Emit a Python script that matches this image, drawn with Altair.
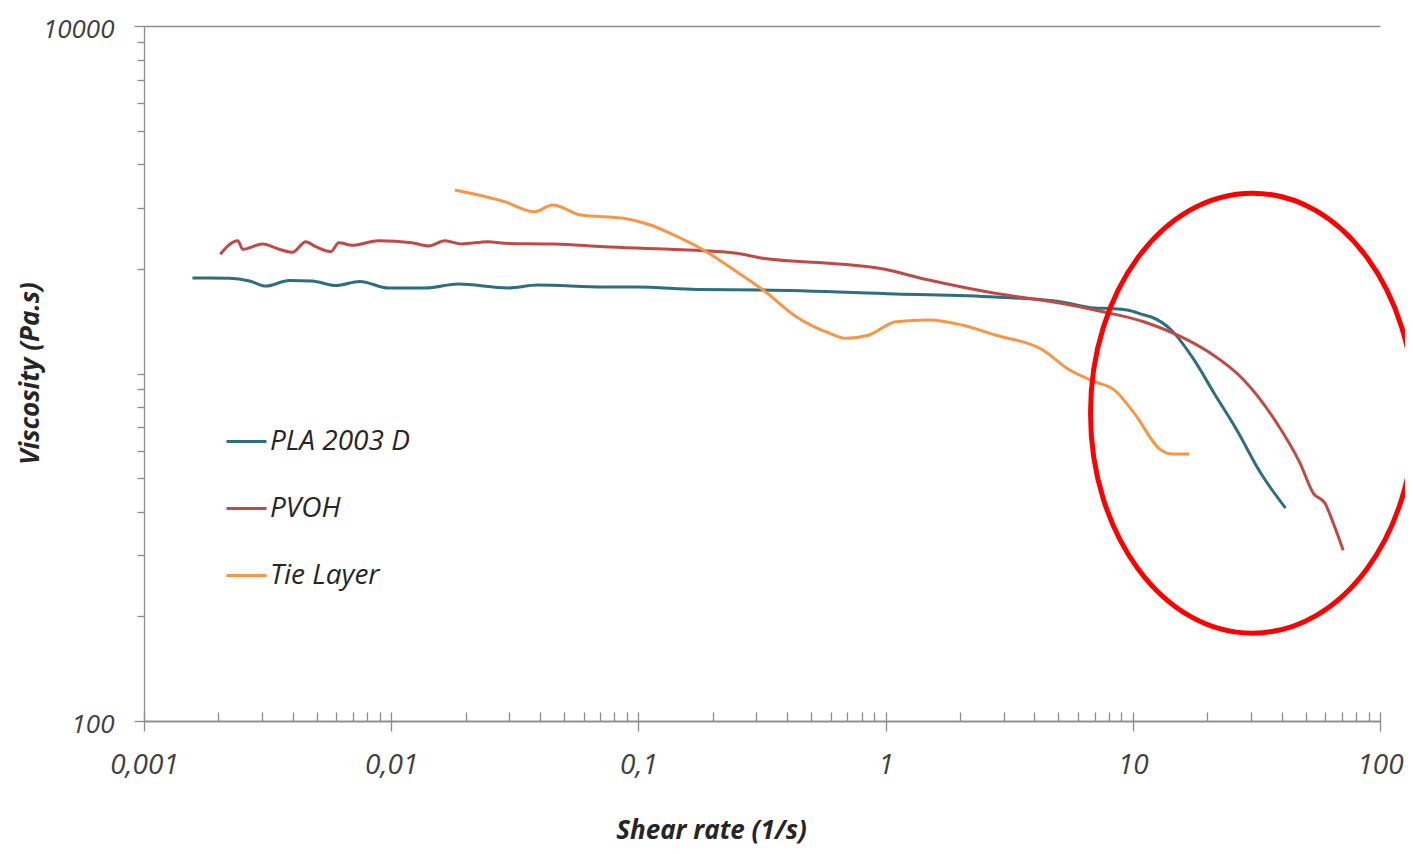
import altair as alt
import pandas as pd

# ---------------- data ----------------
series_names = ["PLA 2003 D", "PVOH", "Tie Layer"]
series_colors = ["#2E6E7E", "#BE4B48", "#F79646"]

pla_x = [0.00157, 0.00222, 0.00267, 0.00312, 0.00387, 0.00478, 0.00597, 0.00746,
         0.00976, 0.01375, 0.01867, 0.02967, 0.03917, 0.0729, 0.0989, 0.1724,
         0.3206, 1.099, 2.775, 5.16, 7.01, 8.20, 9.51, 11.14, 11.88, 14.30,
         17.70, 21.30, 26.34, 32.91, 41.48]
pla_y = [1883, 1879, 1846, 1785, 1852, 1846, 1791, 1840, 1762, 1762, 1809, 1762,
         1797, 1774, 1774, 1745, 1739, 1694, 1660, 1606, 1543, 1538, 1523, 1473,
         1454, 1334, 1094, 879, 688, 517, 410]

pvoh_x = [0.002035, 0.002395, 0.002509, 0.003019, 0.003525, 0.003987, 0.004512,
          0.004951, 0.005689, 0.006144, 0.006949, 0.0089, 0.01211, 0.01414,
          0.01651, 0.01925, 0.02465, 0.02877, 0.04572, 0.07263, 0.1346, 0.2497,
          0.3198, 0.5926, 0.9417, 1.496, 2.775, 5.147, 7.01, 11.14, 16.63, 20.65,
          28.11, 38.28, 47.53, 53.76, 59.93, 64.71, 71.0]
pvoh_y = [2203, 2411, 2277, 2359, 2277, 2233, 2395, 2317, 2242, 2379, 2338, 2411,
          2379, 2328, 2411, 2359, 2395, 2369, 2359, 2317, 2277, 2218, 2146, 2076,
          2008, 1858, 1701, 1592, 1523, 1407, 1249, 1143, 958, 719, 551, 452, 423,
          371, 310]

tie_x = [0.01811, 0.02877, 0.03799, 0.045, 0.05851, 0.08743, 0.1119, 0.1346,
         0.1834, 0.2497, 0.3198, 0.4353, 0.5926, 0.6918, 0.858, 1.099, 1.496,
         2.039, 2.775, 4.277, 5.559, 7.01, 8.433, 10.15, 13.0, 14.26, 16.89]
tie_y = [3374, 3122, 2922, 3054, 2858, 2797, 2675, 2532, 2266, 1963, 1739, 1457,
         1306, 1263, 1291, 1409, 1426, 1379, 1291, 1174, 1023, 947, 896, 768, 602,
         587, 587]

# axis ticks
x_major = [0.001, 0.01, 0.1, 1, 10, 100]
x_minor = [m * d for d in [0.001, 0.01, 0.1, 1, 10] for m in range(2, 10)]
x_all_ticks = x_major + x_minor
y_major = [100, 10000]
y_minor = [m * d for d in [100, 1000] for m in range(2, 10)] + [1000]

# highlight ellipse (annotation) centre, in data units
highlight_x = [30.5]
highlight_y = [769]

# ---------------- build table ----------------
rows = []
for name, xs, ys in zip(series_names, [pla_x, pvoh_x, tie_x], [pla_y, pvoh_y, tie_y]):
    for i, (a, b) in enumerate(zip(xs, ys)):
        rows.append({"series": name, "order": i, "x": a, "y": b})
df = pd.DataFrame(rows)
hl = pd.DataFrame({"x": highlight_x, "y": highlight_y})

FONT = "Open Sans"
AXIS_GRAY = "#8C8C8C"
LABEL_COLOR = "#404040"
TITLE_COLOR = "#262626"

xscale = alt.Scale(type="log", domain=[0.001, 100])
yscale = alt.Scale(type="log", domain=[100, 10000])

lines = alt.Chart(df).mark_line(strokeWidth=3, interpolate="monotone").encode(
    x=alt.X("x:Q", scale=xscale, axis=alt.Axis(
        orient="bottom", values=x_major,
        labelExpr="replace(format(datum.value, '~g'), '.', ',')",
        tickSize=10, tickColor=AXIS_GRAY, tickWidth=1.3,
        domainColor=AXIS_GRAY, domainWidth=1.3, grid=False,
        labelFont=FONT, labelFontStyle="italic", labelFontSize=28,
        labelColor=LABEL_COLOR, labelPadding=20, labelFlush=False, labelOverlap=False,
        title="Shear rate (1/s)", titleFont=FONT, titleFontStyle="italic",
        titleFontWeight="bold", titleFontSize=26, titleColor=TITLE_COLOR,
        titleX=567, titleY=109, titleBaseline="middle", titleAlign="center")),
    y=alt.Y("y:Q", scale=yscale, axis=alt.Axis(
        orient="left", values=y_major, format="d",
        tickSize=10, tickColor=AXIS_GRAY, tickWidth=1.3,
        domainColor=AXIS_GRAY, domainWidth=1.3,
        grid=True, gridColor=AXIS_GRAY, gridWidth=1.3,
        labelFont=FONT, labelFontStyle="italic", labelFontSize=26, labelOffset=3,
        labelColor=LABEL_COLOR, labelPadding=20, labelFlush=False, labelOverlap=False,
        title="Viscosity (Pa.s)", titleFont=FONT, titleFontStyle="italic",
        titleFontWeight="bold", titleFontSize=26, titleColor=TITLE_COLOR,
        titleX=-114, titleY=347, titleAngle=270, titleBaseline="middle",
        titleAlign="center")),
    color=alt.Color("series:N",
                    scale=alt.Scale(domain=series_names, range=series_colors),
                    legend=alt.Legend(title=None, orient="none", legendX=81, legendY=394,
                                      symbolType="stroke", symbolSize=1600,
                                      symbolStrokeWidth=3, labelFont=FONT,
                                      labelFontStyle="italic", labelFontSize=28,
                                      labelColor=TITLE_COLOR, rowPadding=31,
                                      labelOffset=2, padding=0)),
    order="order:Q",
)

ELLIPSE_PATH = ("M-1,0C-1,-0.75,-0.5523,-1.358,0,-1.358C0.5523,-1.358,1,-0.75,1,0"
                "C1,0.75,0.5523,1.358,0,1.358C-0.5523,1.358,-1,0.75,-1,0Z")

ellipse = alt.Chart(hl).mark_point(
    shape=ELLIPSE_PATH, size=104976, filled=False, color="#FF0000",
    stroke="#FF0000", strokeWidth=5, opacity=1
).encode(
    x=alt.X("x:Q", scale=xscale, axis=alt.Axis(
        orient="bottom", values=x_all_ticks, offset=-9, tickSize=9,
        tickColor=AXIS_GRAY, tickWidth=1.3,
        labels=False, domain=False, grid=False, title=None)),
    y=alt.Y("y:Q", scale=yscale, axis=alt.Axis(
        orient="left", values=y_minor, tickSize=7, tickColor=AXIS_GRAY, tickWidth=1.3,
        labels=False, domain=False, grid=False, title=None)),
)

chart = alt.layer(lines, ellipse).resolve_axis(
    x="independent", y="independent"
).properties(
    width=1236, height=695,
    autosize=alt.AutoSizeParams(type="none"),
    padding={"left": 136, "top": 18, "right": 25, "bottom": 125},
).configure_view(stroke=None)

chart.save("out.html", embed_options={"renderer": "svg", "actions": False})
